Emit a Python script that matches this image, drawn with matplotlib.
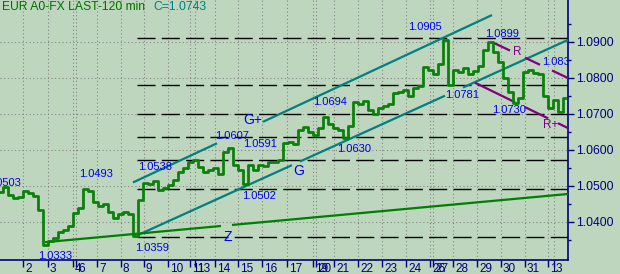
import numpy as np
import matplotlib
matplotlib.use('Agg')
import matplotlib.pyplot as plt

plt.rcParams['font.family'] = ['Liberation Sans', 'DejaVu Sans']

# EUR A0-FX, 120 min closes (one value every bar step)
closes = [1.0482, 1.0496, 1.0474, 1.0466, 1.0469, 1.0485, 1.0480, 1.0472, 1.0433, 1.0335,
          1.0347, 1.0355, 1.0372, 1.0377, 1.0388, 1.0424, 1.0438, 1.0491, 1.0485, 1.0455,
          1.0444, 1.0449, 1.0427, 1.0410, 1.0422, 1.0427, 1.0422, 1.0360, 1.0460, 1.0508,
          1.0505, 1.0513, 1.0488, 1.0494, 1.0502, 1.0516, 1.0538, 1.0549, 1.0566, 1.0572,
          1.0552, 1.0538, 1.0544, 1.0549, 1.0533, 1.0594, 1.0605, 1.0558, 1.0544, 1.0505,
          1.0558, 1.0544, 1.0558, 1.0555, 1.0566, 1.0566, 1.0572, 1.0619, 1.0622, 1.0616,
          1.0655, 1.0663, 1.0649, 1.0641, 1.0660, 1.0691, 1.0672, 1.0660, 1.0655, 1.0633,
          1.0666, 1.0733, 1.0727, 1.0735, 1.0710, 1.0699, 1.0716, 1.0722, 1.0727, 1.0758,
          1.0760, 1.0766, 1.0749, 1.0772, 1.0777, 1.0830, 1.0822, 1.0810, 1.0838, 1.0905,
          1.0780, 1.0822, 1.0816, 1.0827, 1.0810, 1.0819, 1.0833, 1.0877, 1.0899, 1.0872,
          1.0844, 1.0799, 1.0760, 1.0730, 1.0744, 1.0816, 1.0822, 1.0813, 1.0810, 1.0749,
          1.0716, 1.0738, 1.0705, 1.0743]
last_close = '1.0743'

# horizontal retracement levels
level_prices = [1.0910, 1.0779, 1.0699, 1.0635, 1.0570, 1.0491, 1.0358]
level_start = 27.4

# trend lines: (x0, x1), (p0, p1)
upper_chan_x = [26.6, 98.4]
upper_chan_p = [1.0509, 1.0974]
lower_chan_x = [27.6, 113.6]
lower_chan_p = [1.0363, 1.0905]
z_line_x = [9.0, 113.6]
z_line_p = [1.0343, 1.0477]
r_line_x = [98.4, 113.6]
r_line_p = [1.0899, 1.0799]
rplus_line_x = [95.0, 113.6]
rplus_line_p = [1.0786, 1.0660]

day_ticks = [4.6, 9.6, 14.6, 15.2, 19.4, 24.2, 28.8, 33.6, 38.0, 39.0, 43.0, 47.6, 52.4,
             57.4, 62.6, 63.2, 66.8, 71.6, 76.4, 81.2, 86.0, 86.6, 90.6, 95.4, 100.2,
             105.0, 109.6, 110.8]
day_labels = ['2', '3', '4', '6', '7', '8', '9', '10', '11', '13', '14', '15', '16',
              '17', '19', '20', '21', '22', '23', '24', '26', '27', '28', '29', '30',
              '31', '1', '3']
price_ticks = [1.04, 1.05, 1.06, 1.07, 1.08, 1.09]
price_minor = [1.035, 1.045, 1.055, 1.065, 1.075, 1.085, 1.095]

BG = '#bdd6bd'
NAVY = '#000080'
GREEN = '#0b800b'
TEAL = '#008080'
PURPLE = '#800080'
BLUE = '#0000ee'

W, H = 620, 274
fig = plt.figure(figsize=(W / 100, H / 100), dpi=100, facecolor=BG)
ax = fig.add_axes([0, 14 / H, 568 / W, 260 / H])
ax.set_facecolor(BG)
ax.set_xlim(0, 113.6)
ax.set_ylim(1.02936, 1.10158)


def px(x, y):
    return x / W, 1 - y / H


def draw_line(xs, ps, pieces, color, lw):
    for a, b in pieces:
        ax.plot([a, b], np.interp([a, b], xs, ps), color=color, lw=lw,
                solid_capstyle='butt', zorder=3)


# grid
for p in price_ticks:
    ax.axhline(p, color='#808080', lw=0.75, ls=(0, (1, 2.5)), zorder=1)
for t in day_ticks:
    ax.axvline(t, color='#808080', lw=0.75, ls=(0, (1, 2.5)), zorder=1)

# dashed levels
for p in level_prices:
    ax.plot([level_start, 113.6], [p, p], color='black', lw=1.0,
            ls=(0, (13, 4.5)), zorder=2)

# price
ax.plot(np.arange(len(closes)), closes, color=GREEN, lw=2.0,
        drawstyle='steps-mid', zorder=4)

# trend lines
draw_line(upper_chan_x, upper_chan_p, [(26.6, 43.4), (52.6, 98.4)], TEAL, 1.6)
draw_line(lower_chan_x, lower_chan_p, [(27.6, 58.4), (60.0, 89.0), (92.6, 113.6)], TEAL, 1.6)
draw_line(z_line_x, z_line_p, [(9.0, 44.2), (46.4, 113.6)], '#008000', 1.6)
draw_line(r_line_x, r_line_p, [(98.4, 102.0), (105.0, 108.0), (110.4, 113.6)], PURPLE, 1.6)
draw_line(rplus_line_x, rplus_line_p, [(95.0, 103.0), (105.0, 109.6), (111.6, 113.6)], PURPLE, 1.6)

# axes styling
for s in ['left', 'top']:
    ax.spines[s].set_visible(False)
for s in ['right', 'bottom']:
    ax.spines[s].set_color(NAVY)
    ax.spines[s].set_linewidth(1.2)
ax.yaxis.tick_right()
ax.set_yticks(price_ticks)
ax.set_yticklabels(['%.4f' % p for p in price_ticks])
ax.set_yticks(price_minor, minor=True)
ax.tick_params(axis='y', which='major', direction='out', length=4, width=1,
               color=NAVY, labelcolor=NAVY, labelsize=8.7, pad=2)
ax.tick_params(axis='y', which='minor', direction='out', length=2, width=1, color=NAVY)
ax.set_xticks(day_ticks)
ax.set_xticklabels([])
ax.tick_params(axis='x', direction='out', length=5, width=1, color=NAVY)
for t, lab in zip(day_ticks, day_labels):
    ax.text(t + 0.4, -0.012, lab, transform=ax.get_xaxis_transform(),
            ha='left', va='top', fontsize=8.5, color=NAVY, clip_on=False)

# header
fig.text(*px(2, 7), 'EUR A0-FX LAST-120 min', color='#007000', fontsize=8.7, va='center')
fig.text(*px(153, 7), 'C=' + last_close, color=TEAL, fontsize=8.7, va='center')


def note(x, y, s, color=BLUE, size=8, ha='left'):
    ax.text(*px(x, y), s, transform=fig.transFigure, color=color, fontsize=size,
            ha=ha, va='center', clip_on=True, zorder=5)


note(408, 27, '1.0905')
note(485, 34, '1.0899')
note(513, 52, 'R', PURPLE, 8.5)
note(542, 62, '1.0831')
note(445, 95, '1.0781')
note(492, 110, '1.0730')
note(543, 125, 'R+', PURPLE, 8.5)
note(313, 102, '1.0694')
note(243, 120, 'G+', BLUE, 10)
note(215, 136, '1.0607')
note(243, 144, '1.0591')
note(337, 149, '1.0630')
note(293, 171, 'G', BLUE, 10)
note(138, 167, '1.0538')
note(79, 174, '1.0493')
note(242, 196, '1.0502')
note(21, 183, '1.0503', ha='right')
note(38, 256, '1.0333')
note(135, 248, '1.0359')
note(223, 237, 'Z', BLUE, 10)

fig.savefig('out.png', dpi=100, facecolor=BG)
